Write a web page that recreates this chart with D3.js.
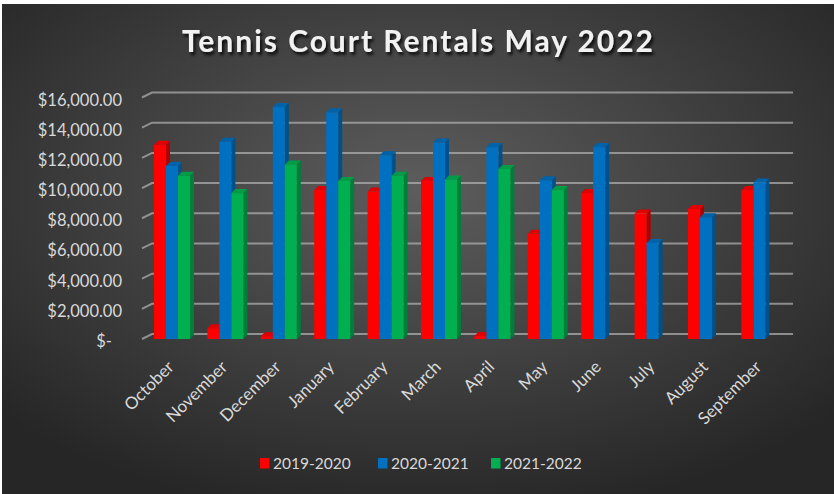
<!DOCTYPE html>
<html>
<head>
<meta charset="utf-8">
<script src="https://cdn.jsdelivr.net/npm/d3@7"></script>
<style>
  body { margin: 0; background: #fff; }
  svg { display: block; }
</style>
</head>
<body>
<svg id="chart" width="834" height="494"></svg>
<script>
// data
const months = ["October", "November", "December", "January", "February", "March",
                "April", "May", "June", "July", "August", "September"];
const seasons = ["2019-2020", "2020-2021", "2021-2022"];
const rentals1920 = [12800, 650, 120, 9800, 9700, 10400, 130, 6900, 9600, 8250, 8550, 9800];
const rentals2021 = [11400, 13000, 15300, 14950, 12100, 12950, 12650, 10450, 12650, 6300, 8000, 10300];
const rentals2122 = [10750, 9600, 11500, 10400, 10750, 10500, 11200, 9800, null, null, null, null];
const yTicks = [0, 2000, 4000, 6000, 8000, 10000, 12000, 14000, 16000];

const seriesValues = [rentals1920, rentals2021, rentals2122];
const faceColors = [
  {front: "#ff0000", top: "#e00000", side: "#b00000"},
  {front: "#0070c0", top: "#0062a8", side: "#00508a"},
  {front: "#00b050", top: "#009c46", side: "#007f38"}
];

const svg = d3.select("#chart"),
  width = +svg.attr("width"),
  height = +svg.attr("height");

const depth = 4;      // bar depth offset
const floorY = 339;   // front baseline of bars

// background
const defs = svg.append("defs");
const grad = defs.append("radialGradient")
  .attr("id", "bg").attr("cx", "50%").attr("cy", "38%").attr("r", "68%");
grad.append("stop").attr("offset", "0%").attr("stop-color", "#5d5d5d");
grad.append("stop").attr("offset", "100%").attr("stop-color", "#262626");

const shadow = defs.append("filter").attr("id", "shadow")
  .attr("x", "-10%").attr("y", "-30%").attr("width", "120%").attr("height", "180%");
shadow.append("feDropShadow")
  .attr("dx", 2).attr("dy", 3).attr("stdDeviation", 1.8)
  .attr("flood-color", "#000").attr("flood-opacity", 0.8);

svg.append("rect").attr("x", 2).attr("y", 4)
  .attr("width", width - 2).attr("height", height - 4)
  .attr("fill", "url(#bg)");

// scales
const y = d3.scaleLinear().domain([0, 16000]).range([334, 92.5]);
const x = d3.scaleBand().domain(months).range([145.3, 145.3 + 12 * 53.4]);
const xs = d3.scaleBand().domain(seasons).range([8.7, 8.7 + 36]);

// gridlines on back wall with the little slanted floor edge on the left
const grid = svg.append("g").attr("class", "grid");
grid.selectAll("path")
  .data(yTicks)
  .join("path")
  .attr("d", d => `M142,${y(d) + 5}L152,${y(d)}H793`)
  .attr("fill", "none")
  .attr("stroke", "#b4b4b4")
  .attr("stroke-opacity", 0.7)
  .attr("stroke-width", 2);

// y labels
const fmt = d3.format("$,.2f");
svg.append("g")
  .selectAll("text")
  .data(yTicks)
  .join("text")
  .attr("x", d => d === 0 ? 112 : 122)
  .attr("y", d => y(d) + 13)
  .attr("text-anchor", "end")
  .attr("fill", "#d9d9d9")
  .style("font-family", "Lato, 'Open Sans', sans-serif")
  .style("font-size", "16.5px")
  .text(d => d === 0 ? "$-" : fmt(d));

// bars
const bars = [];
months.forEach((m, i) => {
  seasons.forEach((s, j) => {
    const v = seriesValues[j][i];
    if (v != null) bars.push({month: m, season: s, idx: j, value: v});
  });
});

const barG = svg.append("g").attr("class", "bars")
  .selectAll("g")
  .data(bars)
  .join("g");

function bx(d) { return x(d.month) + xs(d.season); }
function bt(d) { return y(d.value) + depth; }

barG.append("path")
  .attr("d", d => {
    const x0 = bx(d), w = xs.bandwidth(), t = bt(d);
    return `M${x0 + w},${t}L${x0 + w + depth},${t - depth}L${x0 + w + depth},${floorY - depth}L${x0 + w},${floorY}Z`;
  })
  .attr("fill", d => faceColors[d.idx].side);

barG.append("path")
  .attr("d", d => {
    const x0 = bx(d), w = xs.bandwidth(), t = bt(d);
    return `M${x0},${t}L${x0 + depth},${t - depth}L${x0 + w + depth},${t - depth}L${x0 + w},${t}Z`;
  })
  .attr("fill", d => faceColors[d.idx].top);

barG.append("rect")
  .attr("x", d => bx(d))
  .attr("y", d => bt(d))
  .attr("width", xs.bandwidth())
  .attr("height", d => Math.max(0, floorY - bt(d)))
  .attr("fill", d => faceColors[d.idx].front);

// month labels, rotated
svg.append("g")
  .selectAll("text")
  .data(months)
  .join("text")
  .attr("transform", d => `translate(${x(d) + x.bandwidth() / 2 + 3},368) rotate(-45)`)
  .attr("text-anchor", "end")
  .attr("fill", "#d9d9d9")
  .style("font-family", "Lato, 'Open Sans', sans-serif")
  .style("font-size", "17px")
  .text(d => d);

// title
svg.append("text")
  .attr("x", 417.5)
  .attr("y", 51.7)
  .attr("text-anchor", "middle")
  .attr("fill", "#f2f2f2")
  .attr("filter", "url(#shadow)")
  .attr("textLength", 471)
  .attr("lengthAdjust", "spacing")
  .style("font-family", "Lato, 'Open Sans', sans-serif")
  .style("font-weight", "bold")
  .style("font-size", "30px")
  .text("Tennis Court Rentals May 2022");

// legend
const legendX = [260, 378, 491];
const legend = svg.append("g")
  .selectAll("g")
  .data(seasons)
  .join("g")
  .attr("transform", (d, i) => `translate(${legendX[i]},458)`);

legend.append("rect")
  .attr("width", 9.5).attr("height", 10.5)
  .attr("fill", (d, i) => faceColors[i].front);

legend.append("text")
  .attr("x", 13)
  .attr("y", 10.5)
  .attr("fill", "#d9d9d9")
  .style("font-family", "Lato, 'Open Sans', sans-serif")
  .style("font-size", "15.5px")
  .text(d => d);
</script>
</body>
</html>
